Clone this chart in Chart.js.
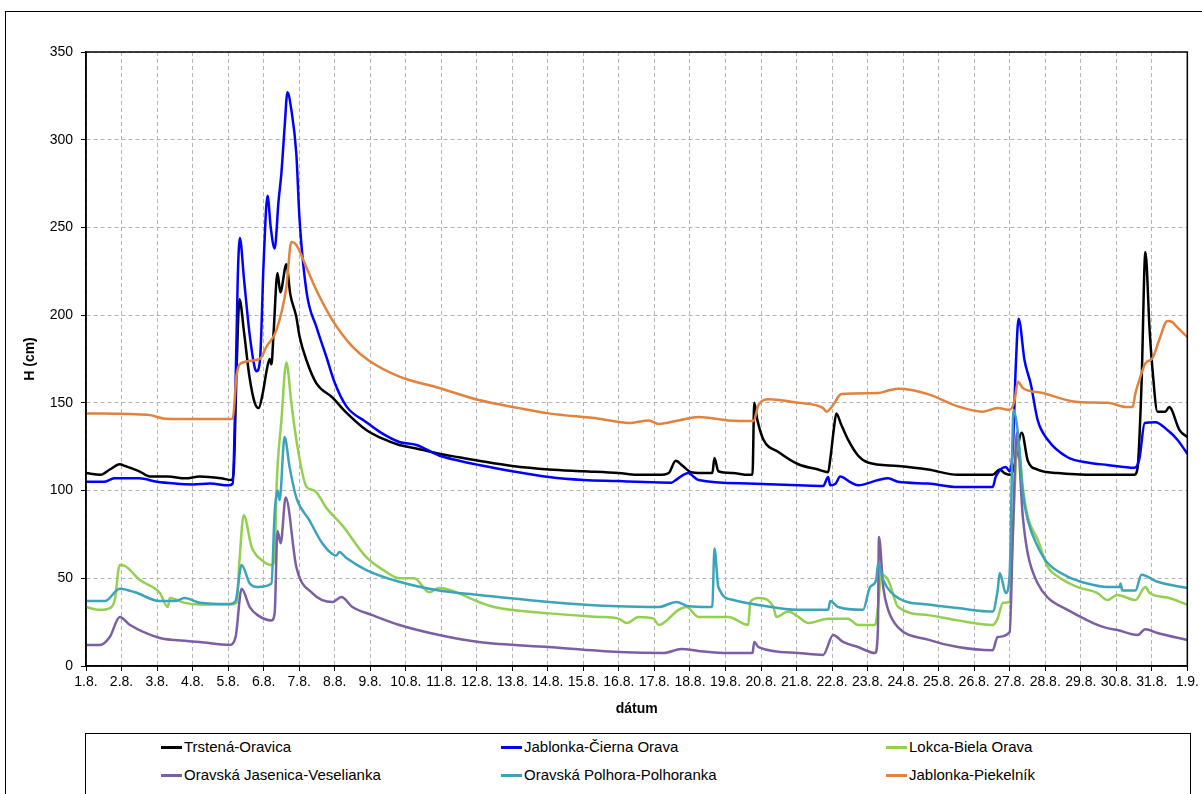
<!DOCTYPE html>
<html lang="sk">
<head>
<meta charset="UTF-8">
<title>Vodné stavy - august</title>
<script src="https://cdn.jsdelivr.net/npm/chart.js"></script>
<style>
  body { margin: 0; background: #fff; overflow: hidden; font-family: "Liberation Sans", Arial, sans-serif; }
  .frame { position: absolute; left: 5px; top: 11px; width: 1300px; height: 900px; border: 1px solid #000; }
  #chart { position: absolute; left: 0; top: 0; }
  .legend { position: absolute; left: 85px; top: 733px; width: 1106px; height: 62px; border: 1px solid #000; box-sizing: border-box; }
  .legend .item { position: absolute; font-size: 15px; line-height: 18px; display: flex; align-items: center; color: #000; white-space: nowrap; }
  .legend .swatch { width: 21px; height: 3px; margin-right: 2px; }
</style>
</head>
<body>
<div class="frame"></div>
<canvas id="chart" width="1202" height="730"></canvas>
<div class="legend" id="legend"></div>

<script>
// x = days since 1.8. 00:00, y = H (cm)
const dayLabels = ['1.8.', '2.8.', '3.8.', '4.8.', '5.8.', '6.8.', '7.8.', '8.8.', '9.8.', '10.8.',
  '11.8.', '12.8.', '13.8.', '14.8.', '15.8.', '16.8.', '17.8.', '18.8.', '19.8.', '20.8.',
  '21.8.', '22.8.', '23.8.', '24.8.', '25.8.', '26.8.', '27.8.', '28.8.', '29.8.', '30.8.',
  '31.8.', '1.9.'];

const seriesNames = ['Trstená-Oravica', 'Jablonka-Čierna Orava', 'Lokca-Biela Orava',
  'Oravská Jasenica-Veselianka', 'Oravská Polhora-Polhoranka', 'Jablonka-Piekelník'];
const seriesColors = ['#000000', '#0000ff', '#92d050', '#7b5ea3', '#3ba3ba', '#e2823c'];

const trstena = [[0,110],[0.4,109],[0.67,112],[0.95,115],[1.1,114],[1.5,111],[1.8,108],[2.3,108],
  [2.8,107],[3.2,108],[3.8,107],[4.1,106],[4.16,112],[4.24,170],[4.32,209],[4.45,190],[4.6,165],
  [4.75,150],[4.86,147],[4.97,155],[5.1,170],[5.17,175],[5.22,172],[5.28,190],[5.39,224],[5.47,213],
  [5.64,229],[5.75,212],[5.92,199],[6.01,188],[6.21,174],[6.49,161],[6.94,153],[7.3,145],[7.89,134.5],
  [8.3,130],[8.82,126],[9.3,124],[9.94,121],[10.5,119],[11.06,117],[12,114],[13.03,112],[14,111],
  [14.99,110],[15.5,109],[16.12,109],[16.4,110],[16.6,117],[16.8,114],[17.04,110.5],[17.5,110],
  [17.63,110],[17.69,118.5],[17.8,111],[18.2,110],[18.64,109],[18.76,109],[18.81,150],[18.9,140],
  [19.07,129],[19.49,122],[20.05,115],[20.61,112],[20.89,110.5],[20.95,118],[21.05,135],[21.12,144],
  [21.25,138],[21.45,129],[21.73,120],[22.01,116],[22.86,114],[23.7,112],[24.54,109],[25.52,109],
  [25.72,112],[25.85,110],[26.03,109],[26.14,115],[26.34,133],[26.51,117],[26.79,112],[27.35,110],
  [28.47,109],[29.51,109],[29.6,113],[29.71,160],[29.82,236],[29.94,191],[30.02,169],[30.16,145],
  [30.38,145],[30.49,147.6],[30.78,134.5],[31,130.5]];

const jablonkaCierna = [[0,105],[0.5,105],[0.8,107],[1.5,107],[2,105],[2.5,104],[3,103.5],[3.5,104],
  [4,103],[4.13,104],[4.2,150],[4.27,220],[4.33,244],[4.45,220],[4.6,190],[4.75,170],[4.8,168],
  [4.9,175],[5.0,230],[5.11,268],[5.2,250],[5.31,238],[5.42,265],[5.5,281],[5.59,307],[5.67,327],
  [5.78,317],[5.92,292],[6.01,255],[6.21,213],[6.49,193],[6.77,176],[6.99,162],[7.33,148],[7.89,139],
  [8.3,133],[8.82,127.7],[9.3,126],[9.94,120],[10.5,117],[11.06,114.6],[12,111],[13.03,107.7],
  [14,106],[14.99,105.4],[15.5,105],[16.48,104.5],[16.6,106],[16.96,110],[17.04,109],[17.24,106],
  [18.64,104],[20.05,103],[20.75,102.6],[20.89,107.7],[20.95,103],[21.1,104],[21.23,108],[21.5,105],
  [21.73,103],[22.3,106],[22.58,107],[22.86,105],[23.7,104],[24.54,102],[25.52,102],[25.61,108],
  [25.89,113.5],[26.0,111],[26.09,125],[26.17,170],[26.25,198],[26.42,174],[26.59,161],[26.79,140],
  [27.07,129],[27.63,119],[28.19,116],[28.75,114.6],[29.51,113],[29.65,118],[29.8,138.5],[30.1,139],
  [30.44,134.5],[30.72,129],[31,121]];

const lokca = [[0,33.6],[0.39,32],[0.67,33],[0.81,37.6],[0.95,57.6],[1.1,57],[1.52,49],[2.08,41.6],
  [2.3,33.6],[2.36,38.8],[2.78,36],[3.2,35],[3.76,35],[4.04,35],[4.24,36],[4.32,60],[4.44,86],
  [4.66,68],[4.97,60],[5.22,57.6],[5.31,60],[5.36,100],[5.5,140],[5.64,173],[5.78,150],[5.92,129],
  [6.21,102],[6.43,100],[6.77,90],[7.22,80],[7.89,62],[8.45,53.6],[8.82,50],[9.24,50],[9.66,42],
  [9.94,44.5],[11.06,36.5],[11.48,33.6],[13.03,30],[14.43,28],[14.99,27],[15.22,24.5],[15.56,28],
  [15.98,27],[16.12,23.4],[16.68,32],[16.9,33.6],[17.24,28],[18.08,28],[18.64,23.4],[18.7,36.5],
  [18.93,38.8],[19.35,33.6],[19.43,28],[19.77,31],[20.05,28],[20.33,24.5],[20.89,27],[21.45,27],
  [21.73,23.4],[22.21,23.4],[22.3,35],[22.38,52],[22.58,49],[22.86,33.6],[23.7,29],[24.54,26],
  [25.52,23.4],[25.66,27],[25.81,36],[26.0,36.5],[26.09,76],[26.23,129],[26.37,102],[26.51,85],
  [26.79,72],[27.07,56.5],[27.35,51],[27.91,45],[28.47,41.6],[28.75,37.6],[29.03,40.5],[29.54,37.6],
  [29.82,45],[29.94,41.6],[30.44,39],[31,35]];

const jasenica = [[0,12],[0.39,12],[0.67,16.5],[0.95,28],[1.24,23.4],[2.08,16],[2.5,14.8],[3.2,13.7],
  [4.04,12],[4.21,16.5],[4.38,44],[4.61,33.6],[4.83,29],[5.22,26],[5.31,30],[5.39,77],[5.48,70],
  [5.62,96],[5.92,56.5],[6.37,41.6],[6.94,36.5],[7.19,39.3],[7.5,33.6],[8.06,29],[8.82,23.4],
  [9.94,17.7],[11.06,13.7],[13.03,10.8],[14.99,8],[16.26,7.4],[16.76,9.7],[17.24,8.6],[18.08,7.4],
  [18.76,7.4],[18.81,13.7],[18.93,10.8],[20.05,7.4],[20.75,6.3],[21.03,17.7],[21.31,13.7],[21.73,10.8],
  [22.21,7.4],[22.29,20],[22.32,73.5],[22.44,45],[22.58,32],[22.86,22],[23.7,15],[24.54,10.8],
  [25.52,9],[25.66,16.5],[26.0,19.4],[26.09,76],[26.2,133],[26.37,85],[26.51,64],[26.79,47],
  [27.07,39],[27.63,32],[28.19,26],[28.47,23.4],[28.75,21.6],[29.03,20.5],[29.6,17.7],[29.82,21],
  [30.16,18.8],[31,14.8]];

const polhora = [[0,37],[0.53,37],[0.95,44],[1.38,42],[2.08,37],[2.5,37],[2.78,38.8],[3.2,36],
  [4.04,35.3],[4.21,37],[4.38,57.6],[4.61,47],[4.83,45],[5.22,47],[5.31,87],[5.39,100],[5.45,94.6],
  [5.59,130.5],[5.73,113.5],[5.92,96],[6.29,83],[6.65,70],[7.05,63],[7.13,65],[7.33,61.5],[7.89,54.7],
  [8.82,48],[9.94,43],[11.06,40.5],[13.03,36.5],[14.99,34],[16.12,33.6],[16.62,36.5],[16.96,34],
  [17.52,33.6],[17.63,34],[17.69,67],[17.8,45],[18.22,37.6],[18.93,34.8],[20.05,32],[20.89,32],
  [20.95,37],[21.17,33.6],[21.87,32],[22.07,45],[22.24,49],[22.3,58.7],[22.44,49],[22.86,38.8],
  [23.7,35],[24.54,33],[25.52,31],[25.66,43],[25.72,53],[25.89,41.6],[26.0,53],[26.11,146],
  [26.23,133],[26.37,98.6],[26.51,83],[26.79,68],[27.07,58.7],[27.63,51],[28.19,47],[28.75,45],
  [29.09,45],[29.12,47],[29.17,43],[29.54,43],[29.71,52],[30.16,48],[31,44.5]];

const piekelnik = [[0,144],[1.24,143.6],[1.8,143],[2.22,141],[3.2,140.8],[4.04,140.8],[4.13,141],
  [4.24,166],[4.41,173],[4.89,175],[5.08,182],[5.36,191.5],[5.64,216],[5.78,241.7],[5.92,240],
  [6.21,227],[6.49,214],[6.94,197],[7.5,182],[7.97,174],[8.82,165],[9.94,158.5],[11.06,151.6],
  [12.19,147],[13.03,144],[14.43,141],[15.28,138.5],[15.84,140],[16.12,138],[16.68,140],[17.24,142],
  [18.08,140],[18.79,139.6],[18.93,148.8],[19.21,152],[20.05,150],[20.75,147],[20.84,145],
  [21.03,148.8],[21.26,155],[22.3,155.6],[22.58,157],[22.86,158],[23.7,155],[24.54,148],[25.24,145],
  [25.66,147],[26.0,146],[26.14,151.6],[26.23,162],[26.37,158.5],[26.93,155.6],[27.91,150.5],
  [28.75,150],[29.32,147.6],[29.46,147.6],[29.54,155.6],[29.65,163],[29.82,172.5],[30.02,175.5],
  [30.21,186],[30.44,196.7],[30.58,196],[30.72,193],[31,187.5]];

const seriesData = [trstena, jablonkaCierna, lokca, jasenica, polhora, piekelnik];

const fontName = '"Liberation Sans", Arial, sans-serif';

// box round the plot area
const plotBorder = {
    id: 'plotBorder',
    afterDraw(chart) {
        const a = chart.chartArea;
        const ctx = chart.ctx;
        ctx.save();
        ctx.strokeStyle = '#000';
        ctx.lineWidth = 1.5;
        ctx.strokeRect(a.left, a.top, a.right - a.left, a.bottom - a.top);
        ctx.restore();
    }
};

const datasets = seriesData.map((pts, i) => ({
    label: seriesNames[i],
    data: pts.map(p => ({ x: p[0], y: p[1] })),
    borderColor: seriesColors[i],
    backgroundColor: seriesColors[i],
    borderWidth: 2.5,
    pointRadius: 0,
    cubicInterpolationMode: 'monotone',
    order: seriesData.length - i
}));

new Chart(document.getElementById('chart'), {
    type: 'line',
    data: { datasets: datasets },
    options: {
        responsive: false,
        animation: false,
        layout: { padding: { left: 10, right: 12, top: 52, bottom: 8 } },
        plugins: { legend: { display: false }, tooltip: { enabled: false } },
        scales: {
            x: {
                type: 'linear',
                min: 0,
                max: 31,
                afterFit: s => { s.height = 56; },
                ticks: {
                    stepSize: 1,
                    autoSkip: false,
                    maxRotation: 0,
                    padding: 3,
                    color: '#000',
                    font: { family: fontName, size: 14 },
                    callback: v => dayLabels[v]
                },
                grid: { color: '#b4b4b4', tickColor: '#000', tickLength: 5, tickBorderDash: [] },
                border: { color: '#000', width: 1.5, dash: [4, 3] },
                title: {
                    display: true,
                    text: 'dátum',
                    color: '#000',
                    font: { family: fontName, size: 14, weight: 'bold' },
                    padding: { top: 0, bottom: 4 }
                }
            },
            y: {
                min: 0,
                max: 350,
                afterFit: s => { s.width = 76; },
                ticks: {
                    stepSize: 50,
                    padding: 8,
                    color: '#000',
                    font: { family: fontName, size: 14 }
                },
                grid: { color: '#b4b4b4', tickColor: '#000', tickLength: 5, tickBorderDash: [] },
                border: { color: '#000', width: 1.5, dash: [4, 3] },
                title: {
                    display: true,
                    text: 'H (cm)',
                    color: '#000',
                    font: { family: fontName, size: 14, weight: 'bold' },
                    padding: { top: 12, bottom: 0 }
                }
            }
        }
    },
    plugins: [plotBorder]
});

// legend in three columns, two rows
const legendCols = [75, 415, 800];
const legendRows = [4, 32];
const legendBox = document.getElementById('legend');
seriesNames.forEach((name, i) => {
    const item = document.createElement('div');
    item.className = 'item';
    item.style.left = legendCols[i % 3] + 'px';
    item.style.top = legendRows[Math.floor(i / 3)] + 'px';
    item.innerHTML = '<span class="swatch" style="background:' + seriesColors[i] + '"></span>' + name;
    legendBox.appendChild(item);
});
</script>
</body>
</html>
